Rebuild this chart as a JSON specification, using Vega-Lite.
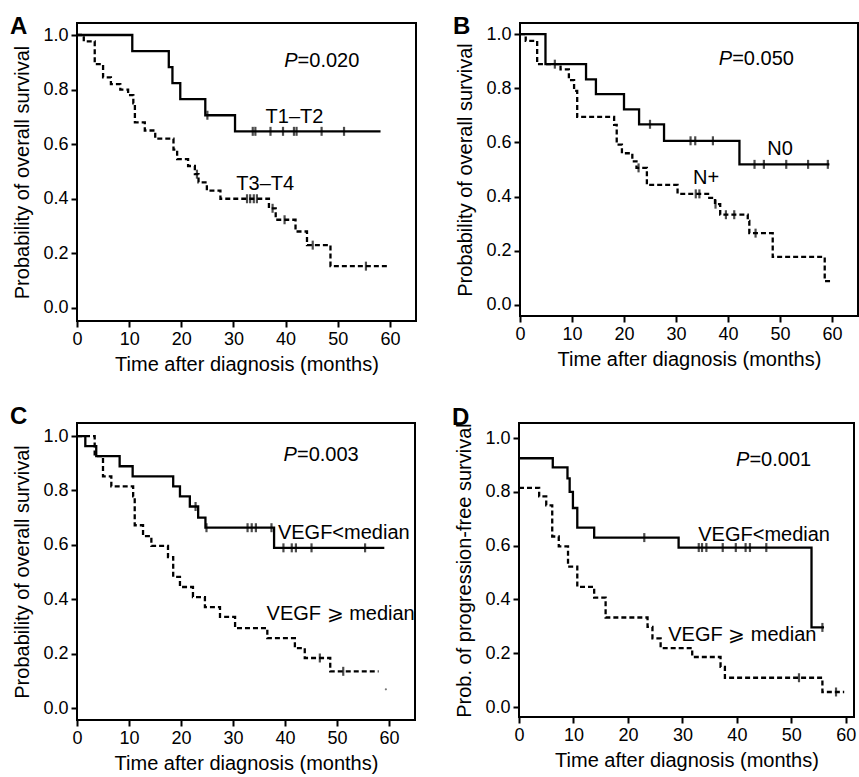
{
  "$schema": "https://vega.github.io/schema/vega-lite/v6.json",
  "background": "white",
  "padding": {"left": 8, "top": 14, "right": 0, "bottom": 0},
  "datasets": {
    "km": [
      {"p":"A","g":"T1–T2","k":"e","t":0,"s":1},
      {"p":"A","g":"T1–T2","k":"e","t":10.6,"s":0.941},
      {"p":"A","g":"T1–T2","k":"e","t":17.6,"s":0.882},
      {"p":"A","g":"T1–T2","k":"e","t":18.3,"s":0.824},
      {"p":"A","g":"T1–T2","k":"e","t":19.8,"s":0.765},
      {"p":"A","g":"T1–T2","k":"e","t":24.6,"s":0.706},
      {"p":"A","g":"T1–T2","k":"e","t":30.3,"s":0.647},
      {"p":"A","g":"T1–T2","k":"e","t":58.2,"s":0.647},
      {"p":"A","g":"T1–T2","k":"c","t":25.0,"s":0.706},
      {"p":"A","g":"T1–T2","k":"c","t":33.7,"s":0.647},
      {"p":"A","g":"T1–T2","k":"c","t":34.2,"s":0.647},
      {"p":"A","g":"T1–T2","k":"c","t":37.1,"s":0.647},
      {"p":"A","g":"T1–T2","k":"c","t":39.5,"s":0.647},
      {"p":"A","g":"T1–T2","k":"c","t":41.6,"s":0.647},
      {"p":"A","g":"T1–T2","k":"c","t":42.1,"s":0.647},
      {"p":"A","g":"T1–T2","k":"c","t":46.9,"s":0.647},
      {"p":"A","g":"T1–T2","k":"c","t":51.2,"s":0.647},
      {"p":"A","g":"T3–T4","k":"e","t":0,"s":1},
      {"p":"A","g":"T3–T4","k":"e","t":1.3,"s":0.977},
      {"p":"A","g":"T3–T4","k":"e","t":3.4,"s":0.893},
      {"p":"A","g":"T3–T4","k":"e","t":5.0,"s":0.845},
      {"p":"A","g":"T3–T4","k":"e","t":6.5,"s":0.82},
      {"p":"A","g":"T3–T4","k":"e","t":8.3,"s":0.80},
      {"p":"A","g":"T3–T4","k":"e","t":9.8,"s":0.78},
      {"p":"A","g":"T3–T4","k":"e","t":10.8,"s":0.75},
      {"p":"A","g":"T3–T4","k":"e","t":11.1,"s":0.68},
      {"p":"A","g":"T3–T4","k":"e","t":13.0,"s":0.65},
      {"p":"A","g":"T3–T4","k":"e","t":15.0,"s":0.62},
      {"p":"A","g":"T3–T4","k":"e","t":18.5,"s":0.58},
      {"p":"A","g":"T3–T4","k":"e","t":19.2,"s":0.545},
      {"p":"A","g":"T3–T4","k":"e","t":21.3,"s":0.52},
      {"p":"A","g":"T3–T4","k":"e","t":22.6,"s":0.49},
      {"p":"A","g":"T3–T4","k":"e","t":23.3,"s":0.46},
      {"p":"A","g":"T3–T4","k":"e","t":24.9,"s":0.43},
      {"p":"A","g":"T3–T4","k":"e","t":27.5,"s":0.40},
      {"p":"A","g":"T3–T4","k":"e","t":36.8,"s":0.365},
      {"p":"A","g":"T3–T4","k":"e","t":38.1,"s":0.323},
      {"p":"A","g":"T3–T4","k":"e","t":41.9,"s":0.28},
      {"p":"A","g":"T3–T4","k":"e","t":44.1,"s":0.23},
      {"p":"A","g":"T3–T4","k":"e","t":48.6,"s":0.153},
      {"p":"A","g":"T3–T4","k":"e","t":59.6,"s":0.153},
      {"p":"A","g":"T3–T4","k":"c","t":23.0,"s":0.49},
      {"p":"A","g":"T3–T4","k":"c","t":32.6,"s":0.40},
      {"p":"A","g":"T3–T4","k":"c","t":33.2,"s":0.40},
      {"p":"A","g":"T3–T4","k":"c","t":33.9,"s":0.40},
      {"p":"A","g":"T3–T4","k":"c","t":34.5,"s":0.40},
      {"p":"A","g":"T3–T4","k":"c","t":37.5,"s":0.365},
      {"p":"A","g":"T3–T4","k":"c","t":39.8,"s":0.323},
      {"p":"A","g":"T3–T4","k":"c","t":45.2,"s":0.23},
      {"p":"A","g":"T3–T4","k":"c","t":55.4,"s":0.153},

      {"p":"B","g":"N0","k":"e","t":0,"s":1},
      {"p":"B","g":"N0","k":"e","t":4.9,"s":0.889},
      {"p":"B","g":"N0","k":"e","t":12.7,"s":0.833},
      {"p":"B","g":"N0","k":"e","t":14.6,"s":0.778},
      {"p":"B","g":"N0","k":"e","t":20.0,"s":0.722},
      {"p":"B","g":"N0","k":"e","t":22.9,"s":0.667},
      {"p":"B","g":"N0","k":"e","t":27.7,"s":0.606},
      {"p":"B","g":"N0","k":"e","t":42.2,"s":0.519},
      {"p":"B","g":"N0","k":"e","t":59.5,"s":0.519},
      {"p":"B","g":"N0","k":"c","t":25.0,"s":0.667},
      {"p":"B","g":"N0","k":"c","t":32.8,"s":0.606},
      {"p":"B","g":"N0","k":"c","t":33.7,"s":0.606},
      {"p":"B","g":"N0","k":"c","t":37.1,"s":0.606},
      {"p":"B","g":"N0","k":"c","t":45.1,"s":0.519},
      {"p":"B","g":"N0","k":"c","t":46.9,"s":0.519},
      {"p":"B","g":"N0","k":"c","t":51.2,"s":0.519},
      {"p":"B","g":"N0","k":"c","t":55.4,"s":0.519},
      {"p":"B","g":"N0","k":"c","t":59.2,"s":0.519},
      {"p":"B","g":"N+","k":"e","t":0,"s":1},
      {"p":"B","g":"N+","k":"e","t":1.1,"s":0.975},
      {"p":"B","g":"N+","k":"e","t":3.3,"s":0.889},
      {"p":"B","g":"N+","k":"e","t":7.8,"s":0.87},
      {"p":"B","g":"N+","k":"e","t":9.4,"s":0.83},
      {"p":"B","g":"N+","k":"e","t":10.4,"s":0.79},
      {"p":"B","g":"N+","k":"e","t":11.0,"s":0.694},
      {"p":"B","g":"N+","k":"e","t":18.1,"s":0.665},
      {"p":"B","g":"N+","k":"e","t":18.6,"s":0.592},
      {"p":"B","g":"N+","k":"e","t":19.6,"s":0.56},
      {"p":"B","g":"N+","k":"e","t":21.6,"s":0.53},
      {"p":"B","g":"N+","k":"e","t":22.4,"s":0.506},
      {"p":"B","g":"N+","k":"e","t":24.4,"s":0.443},
      {"p":"B","g":"N+","k":"e","t":30.3,"s":0.41},
      {"p":"B","g":"N+","k":"e","t":36.4,"s":0.395},
      {"p":"B","g":"N+","k":"e","t":37.5,"s":0.372},
      {"p":"B","g":"N+","k":"e","t":38.5,"s":0.333},
      {"p":"B","g":"N+","k":"e","t":43.8,"s":0.31},
      {"p":"B","g":"N+","k":"e","t":44.1,"s":0.265},
      {"p":"B","g":"N+","k":"e","t":48.6,"s":0.177},
      {"p":"B","g":"N+","k":"e","t":58.6,"s":0.088},
      {"p":"B","g":"N+","k":"e","t":60.0,"s":0.088},
      {"p":"B","g":"N+","k":"c","t":6.7,"s":0.889},
      {"p":"B","g":"N+","k":"c","t":22.8,"s":0.506},
      {"p":"B","g":"N+","k":"c","t":33.8,"s":0.41},
      {"p":"B","g":"N+","k":"c","t":34.5,"s":0.41},
      {"p":"B","g":"N+","k":"c","t":37.6,"s":0.372},
      {"p":"B","g":"N+","k":"c","t":39.6,"s":0.333},
      {"p":"B","g":"N+","k":"c","t":41.2,"s":0.333},
      {"p":"B","g":"N+","k":"c","t":45.3,"s":0.265},

      {"p":"C","g":"lo","k":"e","t":0,"s":1},
      {"p":"C","g":"lo","k":"e","t":1.6,"s":0.963},
      {"p":"C","g":"lo","k":"e","t":3.7,"s":0.926},
      {"p":"C","g":"lo","k":"e","t":8.2,"s":0.889},
      {"p":"C","g":"lo","k":"e","t":10.7,"s":0.852},
      {"p":"C","g":"lo","k":"e","t":18.5,"s":0.815},
      {"p":"C","g":"lo","k":"e","t":19.8,"s":0.778},
      {"p":"C","g":"lo","k":"e","t":21.7,"s":0.741},
      {"p":"C","g":"lo","k":"e","t":23.3,"s":0.70},
      {"p":"C","g":"lo","k":"e","t":24.7,"s":0.663},
      {"p":"C","g":"lo","k":"e","t":37.9,"s":0.589},
      {"p":"C","g":"lo","k":"e","t":59.1,"s":0.589},
      {"p":"C","g":"lo","k":"c","t":22.8,"s":0.741},
      {"p":"C","g":"lo","k":"c","t":24.9,"s":0.663},
      {"p":"C","g":"lo","k":"c","t":32.8,"s":0.663},
      {"p":"C","g":"lo","k":"c","t":33.6,"s":0.663},
      {"p":"C","g":"lo","k":"c","t":34.4,"s":0.663},
      {"p":"C","g":"lo","k":"c","t":37.4,"s":0.663},
      {"p":"C","g":"lo","k":"c","t":39.7,"s":0.589},
      {"p":"C","g":"lo","k":"c","t":41.3,"s":0.589},
      {"p":"C","g":"lo","k":"c","t":42.1,"s":0.589},
      {"p":"C","g":"lo","k":"c","t":45.1,"s":0.589},
      {"p":"C","g":"lo","k":"c","t":55.4,"s":0.589},
      {"p":"C","g":"hi","k":"e","t":0,"s":1},
      {"p":"C","g":"hi","k":"e","t":3.4,"s":0.926},
      {"p":"C","g":"hi","k":"e","t":5.0,"s":0.852},
      {"p":"C","g":"hi","k":"e","t":6.6,"s":0.815},
      {"p":"C","g":"hi","k":"e","t":10.8,"s":0.778},
      {"p":"C","g":"hi","k":"e","t":11.1,"s":0.672},
      {"p":"C","g":"hi","k":"e","t":12.7,"s":0.632},
      {"p":"C","g":"hi","k":"e","t":14.3,"s":0.596},
      {"p":"C","g":"hi","k":"e","t":17.5,"s":0.555},
      {"p":"C","g":"hi","k":"e","t":18.5,"s":0.482},
      {"p":"C","g":"hi","k":"e","t":19.8,"s":0.445},
      {"p":"C","g":"hi","k":"e","t":22.3,"s":0.408},
      {"p":"C","g":"hi","k":"e","t":24.6,"s":0.371},
      {"p":"C","g":"hi","k":"e","t":27.5,"s":0.335},
      {"p":"C","g":"hi","k":"e","t":30.4,"s":0.294},
      {"p":"C","g":"hi","k":"e","t":36.6,"s":0.257},
      {"p":"C","g":"hi","k":"e","t":41.9,"s":0.22},
      {"p":"C","g":"hi","k":"e","t":43.8,"s":0.184},
      {"p":"C","g":"hi","k":"e","t":48.7,"s":0.135},
      {"p":"C","g":"hi","k":"e","t":58.0,"s":0.135},
      {"p":"C","g":"hi","k":"c","t":46.7,"s":0.184},
      {"p":"C","g":"hi","k":"c","t":51.2,"s":0.135},
      {"p":"C","g":"hi","k":"d","t":59.4,"s":0.069},

      {"p":"D","g":"lo","k":"e","t":0,"s":0.925},
      {"p":"D","g":"lo","k":"e","t":6.2,"s":0.891},
      {"p":"D","g":"lo","k":"e","t":8.9,"s":0.85},
      {"p":"D","g":"lo","k":"e","t":9.3,"s":0.80},
      {"p":"D","g":"lo","k":"e","t":9.9,"s":0.74},
      {"p":"D","g":"lo","k":"e","t":10.7,"s":0.667},
      {"p":"D","g":"lo","k":"e","t":13.8,"s":0.63},
      {"p":"D","g":"lo","k":"e","t":29.3,"s":0.593},
      {"p":"D","g":"lo","k":"e","t":53.7,"s":0.296},
      {"p":"D","g":"lo","k":"e","t":56.0,"s":0.296},
      {"p":"D","g":"lo","k":"c","t":23.0,"s":0.63},
      {"p":"D","g":"lo","k":"c","t":33.0,"s":0.593},
      {"p":"D","g":"lo","k":"c","t":33.6,"s":0.593},
      {"p":"D","g":"lo","k":"c","t":34.4,"s":0.593},
      {"p":"D","g":"lo","k":"c","t":37.4,"s":0.593},
      {"p":"D","g":"lo","k":"c","t":39.8,"s":0.593},
      {"p":"D","g":"lo","k":"c","t":41.6,"s":0.593},
      {"p":"D","g":"lo","k":"c","t":42.4,"s":0.593},
      {"p":"D","g":"lo","k":"c","t":45.4,"s":0.593},
      {"p":"D","g":"lo","k":"c","t":55.7,"s":0.296},
      {"p":"D","g":"hi","k":"e","t":0,"s":0.815},
      {"p":"D","g":"hi","k":"e","t":3.7,"s":0.783},
      {"p":"D","g":"hi","k":"e","t":5.0,"s":0.75},
      {"p":"D","g":"hi","k":"e","t":6.1,"s":0.634},
      {"p":"D","g":"hi","k":"e","t":7.3,"s":0.597},
      {"p":"D","g":"hi","k":"e","t":9.0,"s":0.522},
      {"p":"D","g":"hi","k":"e","t":10.7,"s":0.447},
      {"p":"D","g":"hi","k":"e","t":13.8,"s":0.407},
      {"p":"D","g":"hi","k":"e","t":15.9,"s":0.333},
      {"p":"D","g":"hi","k":"e","t":23.6,"s":0.298},
      {"p":"D","g":"hi","k":"e","t":24.5,"s":0.255},
      {"p":"D","g":"hi","k":"e","t":26.0,"s":0.219},
      {"p":"D","g":"hi","k":"e","t":31.8,"s":0.186},
      {"p":"D","g":"hi","k":"e","t":37.0,"s":0.149},
      {"p":"D","g":"hi","k":"e","t":37.8,"s":0.109},
      {"p":"D","g":"hi","k":"e","t":55.7,"s":0.056},
      {"p":"D","g":"hi","k":"e","t":59.7,"s":0.056},
      {"p":"D","g":"hi","k":"c","t":51.4,"s":0.109},
      {"p":"D","g":"hi","k":"c","t":58.2,"s":0.056}
    ],
    "ann": [
      {"p":"A","kind":"pv","label":"=0.020","t":42.3,"s":0.905},
      {"p":"A","kind":"lab","label":"T1–T2","t":41.7,"s":0.70},
      {"p":"A","kind":"lab","label":"T3–T4","t":36.1,"s":0.454},
      {"p":"B","kind":"pv","label":"=0.050","t":40.8,"s":0.908},
      {"p":"B","kind":"lab","label":"N0","t":50.0,"s":0.574},
      {"p":"B","kind":"lab","label":"N+","t":35.8,"s":0.469},
      {"p":"C","kind":"pv","label":"=0.003","t":42.3,"s":0.93},
      {"p":"C","kind":"lab","label":"VEGF<median","t":51.3,"s":0.643},
      {"p":"C","kind":"lab","label":"VEGF ⩾ median","t":50.7,"s":0.347},
      {"p":"D","kind":"pv","label":"=0.001","t":42.3,"s":0.918},
      {"p":"D","kind":"lab","label":"VEGF<median","t":45.0,"s":0.64},
      {"p":"D","kind":"lab","label":"VEGF ⩾ median","t":41.0,"s":0.267}
    ]
  },
  "vconcat": [
    {
      "spacing": 34,
      "hconcat": [
        {
          "width": 339, "height": 298,
          "title": {"text": "A"},
          "encoding": {
            "x": {"field": "t", "type": "quantitative", "scale": {"domain": [0, 65], "nice": false, "zero": false}, "axis": {"values": [0,10,20,30,40,50,60], "title": "Time after diagnosis (months)"}},
            "y": {"field": "s", "type": "quantitative", "scale": {"domain": [-0.048, 1.044], "nice": false, "zero": false}, "axis": {"values": [0,0.2,0.4,0.6,0.8,1], "format": ".1f", "title": "Probability of overall survival"}}
          },
          "layer": [
            {"data": {"name": "km"}, "transform": [{"filter": "datum.p==='A' && datum.k==='e'"}], "mark": {"type": "line", "interpolate": "step-after", "color": "black", "strokeWidth": 2.3}, "encoding": {"detail": {"field": "g"}, "strokeDash": {"field": "g", "type": "nominal", "scale": {"domain": ["T1–T2", "T3–T4"], "range": [[1,0],[5,3]]}, "legend": null}}},
            {"data": {"name": "km"}, "transform": [{"filter": "datum.p==='A' && datum.k==='c'"}], "mark": {"type": "tick", "orient": "vertical", "size": 9, "thickness": 2.2, "color": "black"}},
            {"data": {"name": "ann"}, "transform": [{"filter": "datum.p==='A' && datum.kind==='pv'"}], "mark": {"type": "text", "text": "P", "fontStyle": "italic", "align": "right", "baseline": "middle", "fontSize": 20, "color": "black"}},
            {"data": {"name": "ann"}, "transform": [{"filter": "datum.p==='A' && datum.kind==='pv'"}], "mark": {"type": "text", "align": "left", "baseline": "middle", "fontSize": 20, "color": "black"}, "encoding": {"text": {"field": "label"}}},
            {"data": {"name": "ann"}, "transform": [{"filter": "datum.p==='A' && datum.kind==='lab'"}], "mark": {"type": "text", "align": "center", "baseline": "middle", "fontSize": 20, "color": "black"}, "encoding": {"text": {"field": "label"}}}
          ]
        },
        {
          "width": 338, "height": 293,
          "title": {"text": "B"},
          "encoding": {
            "x": {"field": "t", "type": "quantitative", "scale": {"domain": [0, 65], "nice": false, "zero": false}, "axis": {"values": [0,10,20,30,40,50,60], "title": "Time after diagnosis (months)"}},
            "y": {"field": "s", "type": "quantitative", "scale": {"domain": [-0.041, 1.041], "nice": false, "zero": false}, "axis": {"values": [0,0.2,0.4,0.6,0.8,1], "format": ".1f", "title": "Probability of overall survival"}}
          },
          "layer": [
            {"data": {"name": "km"}, "transform": [{"filter": "datum.p==='B' && datum.k==='e'"}], "mark": {"type": "line", "interpolate": "step-after", "color": "black", "strokeWidth": 2.3}, "encoding": {"detail": {"field": "g"}, "strokeDash": {"field": "g", "type": "nominal", "scale": {"domain": ["N0", "N+"], "range": [[1,0],[5,3]]}, "legend": null}}},
            {"data": {"name": "km"}, "transform": [{"filter": "datum.p==='B' && datum.k==='c'"}], "mark": {"type": "tick", "orient": "vertical", "size": 9, "thickness": 2.2, "color": "black"}},
            {"data": {"name": "ann"}, "transform": [{"filter": "datum.p==='B' && datum.kind==='pv'"}], "mark": {"type": "text", "text": "P", "fontStyle": "italic", "align": "right", "baseline": "middle", "fontSize": 20, "color": "black"}},
            {"data": {"name": "ann"}, "transform": [{"filter": "datum.p==='B' && datum.kind==='pv'"}], "mark": {"type": "text", "align": "left", "baseline": "middle", "fontSize": 20, "color": "black"}, "encoding": {"text": {"field": "label"}}},
            {"data": {"name": "ann"}, "transform": [{"filter": "datum.p==='B' && datum.kind==='lab'"}], "mark": {"type": "text", "align": "center", "baseline": "middle", "fontSize": 20, "color": "black"}, "encoding": {"text": {"field": "label"}}}
          ]
        }
      ]
    },
    {
      "spacing": 34,
      "hconcat": [
        {
          "width": 338, "height": 297,
          "title": {"text": "C", "dy": -3},
          "encoding": {
            "x": {"field": "t", "type": "quantitative", "scale": {"domain": [0, 65], "nice": false, "zero": false}, "axis": {"values": [0,10,20,30,40,50,60], "title": "Time after diagnosis (months)"}},
            "y": {"field": "s", "type": "quantitative", "scale": {"domain": [-0.044, 1.048], "nice": false, "zero": false}, "axis": {"values": [0,0.2,0.4,0.6,0.8,1], "format": ".1f", "title": "Probability of overall survival"}}
          },
          "layer": [
            {"data": {"name": "km"}, "transform": [{"filter": "datum.p==='C' && datum.k==='e'"}], "mark": {"type": "line", "interpolate": "step-after", "color": "black", "strokeWidth": 2.3}, "encoding": {"detail": {"field": "g"}, "strokeDash": {"field": "g", "type": "nominal", "scale": {"domain": ["lo", "hi"], "range": [[1,0],[5,3]]}, "legend": null}}},
            {"data": {"name": "km"}, "transform": [{"filter": "datum.p==='C' && datum.k==='c'"}], "mark": {"type": "tick", "orient": "vertical", "size": 9, "thickness": 2.2, "color": "black"}},
            {"data": {"name": "km"}, "transform": [{"filter": "datum.p==='C' && datum.k==='d'"}], "mark": {"type": "point", "filled": true, "size": 5, "color": "#777777", "opacity": 1}},
            {"data": {"name": "ann"}, "transform": [{"filter": "datum.p==='C' && datum.kind==='pv'"}], "mark": {"type": "text", "text": "P", "fontStyle": "italic", "align": "right", "baseline": "middle", "fontSize": 20, "color": "black"}},
            {"data": {"name": "ann"}, "transform": [{"filter": "datum.p==='C' && datum.kind==='pv'"}], "mark": {"type": "text", "align": "left", "baseline": "middle", "fontSize": 20, "color": "black"}, "encoding": {"text": {"field": "label"}}},
            {"data": {"name": "ann"}, "transform": [{"filter": "datum.p==='C' && datum.kind==='lab'"}], "mark": {"type": "text", "align": "center", "baseline": "middle", "fontSize": 20, "color": "black"}, "encoding": {"text": {"field": "label"}}}
          ]
        },
        {
          "width": 335, "height": 294,
          "title": {"text": "D", "dy": -2},
          "encoding": {
            "x": {"field": "t", "type": "quantitative", "scale": {"domain": [0, 61.5], "nice": false, "zero": false}, "axis": {"values": [0,10,20,30,40,50,60], "title": "Time after diagnosis (months)"}},
            "y": {"field": "s", "type": "quantitative", "scale": {"domain": [-0.037, 1.056], "nice": false, "zero": false}, "axis": {"values": [0,0.2,0.4,0.6,0.8,1], "format": ".1f", "title": "Prob. of progression-free survival"}}
          },
          "layer": [
            {"data": {"name": "km"}, "transform": [{"filter": "datum.p==='D' && datum.k==='e'"}], "mark": {"type": "line", "interpolate": "step-after", "color": "black", "strokeWidth": 2.3}, "encoding": {"detail": {"field": "g"}, "strokeDash": {"field": "g", "type": "nominal", "scale": {"domain": ["lo", "hi"], "range": [[1,0],[5,3]]}, "legend": null}}},
            {"data": {"name": "km"}, "transform": [{"filter": "datum.p==='D' && datum.k==='c'"}], "mark": {"type": "tick", "orient": "vertical", "size": 9, "thickness": 2.2, "color": "black"}},
            {"data": {"name": "ann"}, "transform": [{"filter": "datum.p==='D' && datum.kind==='pv'"}], "mark": {"type": "text", "text": "P", "fontStyle": "italic", "align": "right", "baseline": "middle", "fontSize": 20, "color": "black"}},
            {"data": {"name": "ann"}, "transform": [{"filter": "datum.p==='D' && datum.kind==='pv'"}], "mark": {"type": "text", "align": "left", "baseline": "middle", "fontSize": 20, "color": "black"}, "encoding": {"text": {"field": "label"}}},
            {"data": {"name": "ann"}, "transform": [{"filter": "datum.p==='D' && datum.kind==='lab'"}], "mark": {"type": "text", "align": "center", "baseline": "middle", "fontSize": 20, "color": "black"}, "encoding": {"text": {"field": "label"}}}
          ]
        }
      ]
    }
  ],
  "spacing": 29,
  "config": {
    "font": "Liberation Sans",
    "view": {"stroke": "black", "strokeWidth": 2},
    "title": {"anchor": "start", "frame": "bounds", "fontSize": 24, "fontWeight": "bold", "color": "black", "font": "Liberation Sans", "offset": -9, "dx": -3, "dy": 7, "baseline": "alphabetic"},
    "axis": {"domain": false, "grid": false, "ticks": true, "tickColor": "black", "tickWidth": 2, "tickSize": 6, "labelFont": "Liberation Sans", "labelFontSize": 18, "labelColor": "black", "labelPadding": 3, "labelFlush": false, "titleFont": "Liberation Sans", "titleFontSize": 20, "titleFontWeight": "normal", "titleColor": "black"},
    "axisY": {"titlePadding": 10},
    "axisX": {"titlePadding": 6},
    "text": {"font": "Liberation Sans"}
  }
}
